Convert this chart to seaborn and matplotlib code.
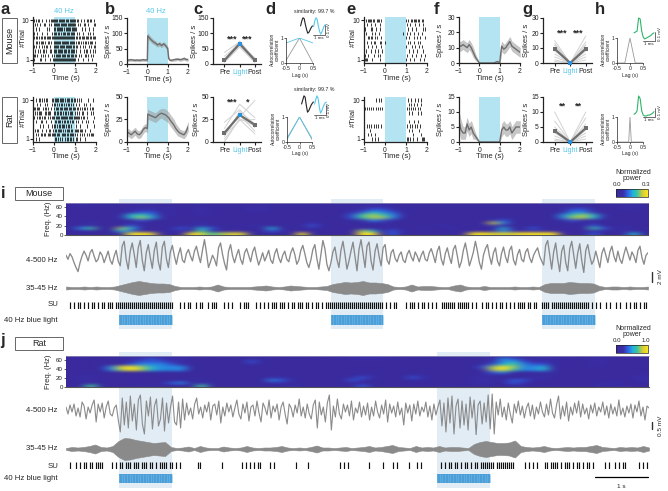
import numpy as np
import matplotlib
matplotlib.use("Agg")
import matplotlib.pyplot as plt
from matplotlib.cm import ScalarMappable
from matplotlib.colors import LinearSegmentedColormap, Normalize
from matplotlib.patches import Rectangle
import seaborn as sns

W, H = 668, 491

TIME = [-1.0, -0.9, -0.8, -0.7, -0.6, -0.5, -0.4, -0.3, -0.2, -0.1, 0.0, 0.02,
        0.1, 0.2, 0.3, 0.4, 0.5, 0.6, 0.7, 0.8, 0.9, 1.0, 1.05,
        1.1, 1.2, 1.3, 1.4, 1.5, 1.6, 1.7, 1.8, 1.9, 2.0]

psth_b_mouse = [13, 13, 14, 13, 12, 13, 12, 13, 14, 13, 13, 92, 85, 78, 72, 68, 62, 66, 60, 66, 60, 50, 18, 13, 12, 14, 15, 16, 14, 15, 18, 15, 14]
sem_b_mouse = [4, 4, 4, 4, 4, 4, 4, 4, 4, 4, 4, 9, 8, 8, 7, 7, 6, 7, 6, 6, 6, 6, 4, 3, 3, 4, 4, 4, 4, 4, 5, 4, 4]
psth_b_rat = [11, 10, 8, 10, 12, 9, 8, 10, 14, 16, 15, 31, 30, 29, 28, 27, 29, 31, 32, 31, 30, 28, 27, 25, 22, 19, 15, 12, 10, 9, 8, 11, 17]
sem_b_rat = [4, 4, 4, 4, 4, 4, 4, 4, 4, 4, 4, 5, 5, 5, 5, 5, 5, 5, 5, 6, 6, 6, 6, 6, 6, 6, 5, 5, 4, 4, 4, 4, 5]
psth_f_mouse = [11, 11, 12, 11, 10, 12, 10, 7, 4, 2, 0, 0, 0, 0, 0, 0, 0, 0, 0, 0.5, 1, 0, 6, 11, 9, 10, 12, 14, 11, 10, 9, 8, 7]
sem_f_mouse = [3, 3, 3, 3, 3, 3, 3, 3, 2, 1, 0, 0, 0, 0, 0, 0, 0, 0, 0, 0.3, 0.5, 0, 3, 3, 3, 3, 3, 3, 3, 3, 3, 3, 3]
psth_f_rat = [7, 4, 3, 3, 6, 4, 5, 3, 2, 1, 0, 0, 0, 0, 0, 0, 0, 0, 0, 0, 0, 0, 2, 4, 5, 4, 4, 5, 3, 4, 5, 5, 5]
sem_f_rat = [3, 3, 2, 2, 2, 2, 2, 2, 1, 0.5, 0, 0, 0, 0, 0, 0, 0, 0, 0, 0, 0, 0, 1, 2, 2, 2, 2, 2, 2, 2, 2, 2, 2]

# pre / light / post per unit
units_c_mouse = [[10, 60, 10], [15, 70, 8], [25, 68, 18], [5, 55, 5], [12, 75, 15], [38, 72, 12], [8, 64, 20]]
mean_c_mouse = [12, 66, 12]
units_c_rat = [[6, 34, 20], [15, 42, 27], [22, 36, 16], [3, 25, 9], [8, 24, 25], [12, 28, 46], [10, 30, 12], [0, 26, 18]]
mean_c_rat = [10, 30, 19]
units_g_mouse = [[15, 0, 18], [13, 0, 14], [12, 0, 12], [10, 0, 10], [8, 0, 8], [6, 0, 6], [4, 0, 4], [2, 0, 2], [1, 0, 12]]
mean_g_mouse = [9.5, 0, 9.5]
units_g_rat = [[10, 0, 10], [7, 0, 8], [5, 0, 6], [4, 0, 5], [3, 0, 3], [2, 0, 2], [1, 0, 1], [0.5, 0, 4]]
mean_g_rat = [3.7, 0, 4.6]
conditions = ["Pre", "Light", "Post"]

lag_points = [-0.5, 0, 0.5]
acorr_d_mouse_unit = [0.1, 1, 0.0]
acorr_d_mouse_light = [0.8, 1, 0.8]
acorr_d_rat_unit = [0.15, 1, 0.1]
acorr_d_rat_light = [0.1, 1, 0.15]
lag_h_mouse = [-0.5, -0.2, 0, 0.2, 0.5]
acorr_h_mouse = [0, 0, 1, 0, 0]
lag_h_rat = [-0.5, -0.05, 0, 0.05, 0.5]
acorr_h_rat = [0, 0, 1, 0, 0]

wave_d_mouse = [-0.02, 0.04, 0.08, 0.07, 0.0, -0.06, -0.11, -0.1, -0.07, -0.04, -0.02]
wave_d_mouse_light = [-0.03, 0.05, 0.09, 0.07, -0.02, -0.09, -0.13, -0.1, -0.06, -0.02, 0.0]
wave_d_rat = [0.0, 0.06, 0.12, 0.1, -0.02, -0.12, -0.1, -0.06, -0.02, 0.01, 0.03]
wave_d_rat_light = [0.0, 0.07, 0.12, 0.08, -0.04, -0.13, -0.1, -0.05, -0.01, 0.02, 0.03]
wave_h_mouse = [-0.02, -0.01, 0.0, 0.15, 0.14, 0.0, -0.07, -0.09, -0.08, -0.07, -0.06, -0.05, -0.03, -0.02]
wave_h_rat = [-0.06, -0.05, -0.02, 0.15, 0.12, -0.02, -0.07, -0.08, -0.08, -0.07, -0.07, -0.06, -0.05, -0.03]

raster_a_mouse = [
    "010101100100010010111 111101111110111011111 101100100100110110010",
    "001010010001100010100 111111011111101111111 100101000110010000011",
    "000100100000001010000 110111111010111110111 110000010010001000100",
    "010010000100001000010 111011010111011101111 001010001000010100100",
    "110110101101101111011 111111111111111111111 011011011101110110111",
    "000110101110100110100 111111101111111011111 010110101011010111001",
    "010100100101011001000 111110111110111111011 011001001010001010011",
    "001001010011010001100 111011111011101101111 010001000101100100101",
    "011010001010100100010 101111101111011101110 110010100011010010100",
    "010000011000100001001 111111111111111111111 100100001000010001000",
]
raster_a_rat = [
    "000100110101011000011 011110111101011101101 101010100000010000100",
    "000010010000101000010 110101011010101101010 010010000101000100000",
    "011011100010110100100 101110111011110111011 101101010110100101100",
    "001010111000110111000 110110110101101011100 101010011000100010100",
    "010010110101100101011 101111011111110111101 111110101100100000010",
    "000100001100010000100 011011101011011010110 010100010001010000100",
    "000000010010000100010 110101101110101101000 010001000000100000010",
    "001011000100010011001 011011110101011101100 111101110010000100000",
    "000101001101100111011 110111001111011011110 101001010100101011100",
    "000100100000000000000 011010101001011011010 011001000010000000000",
]
raster_e_mouse = [
    "001011110110011101000 000000000000000000000 101001101110110011000",
    "000100010001000010000 000000000000000000000 010010000100010001000",
    "010000011000100010000 000000000000000000000 001000100010000001010",
    "001000001001000100000 000000000000000000100 010010001000100010000",
    "000011011001010001000 000000000000000000000 100100001001001000010",
    "000100010011000011000 100000000000000000000 001010001000101000000",
    "000010001000100001000 000000000000000000000 100000100100010010000",
    "001000010001001000100 000000000000000000000 000100010001000001000",
    "010010000010001010000 000000000000000000000 010000100010000100010",
    "011100001000000010000 000000000000000000000 100010001000001000100",
]
raster_e_rat = [
    "000000000000100101000 000000000000000000000 001001000100100100000",
    "000000000000000000000 000000000000000000000 000101001001000100000",
    "010101010100101010100 000000000000000000000 010101010100101000000",
    "000000000000000000000 000000000000000000000 000100100000100100000",
    "000000000000000000000 000000000000000000000 000000000000000000000",
    "000000000000000000000 000000000000000000000 000100001000100000000",
    "000101010010101001000 000000000000000000000 010010100101001000000",
    "000000100000000000000 000000000000000000000 000100100000010000000",
    "000010010001000000000 000000000000000000000 000000010000000100000",
    "000000001001001000000 000000000000000000000 011010010001000011100",
]

# spectrogram rows from 65 Hz down to 3 Hz, one digit per 0.19 s
spec_mouse = [
    "0100000110000100000100000000011110000000000000000111000110",
    "0100000120100100002100000000112210000000000000000122000120",
    "0000001220100200002100000000123320100000000000000133100110",
    "0000002330100200000100000000235430000000000000000244200000",
    "0000025640100100000000000000367642000000000000000467520000",
    "0000025752000000000000000000367741000000000000000477520000",
    "0000001310000000000000000000124320000000002300000231100000",
    "0020001000000200000000002000011100000000008400000010200000",
    "0120003100001200001200003000000100000200012100000000300100",
    "0460075100130530000051002000010020020020000520310000630200",
    "0010053000120610000031000000075030000000000420200000210210",
    "0000009980009867880000090000099030000000998889999000300050",
]
spec_rat = [
    "0000002222110000000000000000111110000000002220122010110000",
    "0000002232220000001000000000111100000000002432121010210000",
    "0000002333220000003000000000000000000000002453121000110000",
    "0000003444320000002000000000000000000000013564331000110000",
    "0000489754440000000000000000000000000000037974451000100000",
    "0000479754440000000000000000000000000000027964451000000000",
    "0000000000000000000000000000000000000000013420121000000000",
    "0010000000000000000000000000011000110000012000011000000001",
    "0210000000000000000022000000231000320000110000220000000012",
    "0110001000000100000043100000320000010000121033000000001002",
    "0000000000340210000012000000000000000000120032000000011000",
    "0060000110000600000000200000030000000110000002000000020200",
]

lfp_mouse = [
    3, -2, 5, 1, -6, -12, -17, -6, 2, 8, 3, -4, 6, 10, 2, -5, -2, 7, 3, -6, 1, 8, -3, -8, 2, 9, -4, -10, 14, 20,
    -2, -14, 8, 18, 4, -12, 12, 21, -3, -16, 6, 16, 0, -13, 9, 19, -5, -15, 13, 20, -1, -12, 7, 15, 2, -8, 4, 12, -3, -6,
    5, 10, 2, -4, 8, 14, 3, -6, 9, 22, 6, -12, -5, 3, -2, -10, 12, 18, 4, -7, -15, 8, 16, 2, -6, 3, 10, -2, -8, 6,
    11, 3, -5, 7, 13, 1, -9, -2, 6, -4, 2, 9, -3, -7, 5, 11, 0, -6, 3, 8, -2, -5, 6, 12, 4, -8, -3, 9, 15, 5,
    -6, -12, -3, 10, 16, -1, -14, 4, 21, 11, -8, -16, -6, 7, 13, -2, -12, 9, 20, 4, -14, -4, 8, 19, 1, -16, 10, 22, 5, -12,
    14, 19, -4, -15, 8, 17, 2, -10, 12, 16, -3, -8, 6, 10, -1, -5, 3, 7, -3, -6, 4, 9, 1, -4, 7, 2, -5, 3, 8, -2,
    -4, 6, 11, 3, -6, 8, 14, -2, -9, 5, 12, 1, -7, 10, 15, 2, -12, -5, 9, 18, 5, -10, -2, 7, 20, 8, -6, -14, 3, 11,
    16, 2, -8, 6, 12, -4, -10, 5, 13, 1, -6, 9, 14, -3, -9, 4, 10, -2, -5, 7, 11, 0, -6, 3, 8, 12, 2, -4, -9, 15,
    21, 4, -14, 7, 18, -2, -17, 8, 15, -6, -16, 11, 20, 3, -13, 6, 17, -4, -18, 9, 16, 2, -8, -3, 8, -2, -12, 5, 12, 3,
    -6, 7, 14, 2, -5, 8, -2, -7, 4, 13, 5, -3, 7, 2, -6, 9, 14, 0, -8, 3, 6,
]
lfp_rat = [
    3, -4, 5, -2, 6, -6, 2, -7, 8, 4, -9, 3, -3, 5, 10, -12, 6, -2, 7, -8, 3, 9, -4, -6, 2, 5, -10, -22, 12, -15,
    8, -18, 14, -11, 6, -20, 10, 15, -14, -24, 9, -6, 13, -19, 4, 11, -16, -9, 12, -21, 7, -13, 3, 14, -12, -15, 8, -18, 11, -10,
    7, -5, 2, -9, 6, 12, -4, 3, -8, 5, -2, 8, -10, 4, 6, -5, 9, -13, 3, -6, 7, -2, 5, -7, 2, 10, -4, -9, 6, -3,
    8, -11, 3, 5, -6, 9, -3, -12, 7, 2, -5, 10, -8, 4, -2, 6, -10, 3, 8, -4, -14, 6, 2, -7, 5, -3, 11, -6, 3, -8,
    6, -4, -9, 5, 10, -18, 8, -5, 3, -12, 7, 15, -20, 4, -7, 11, -4, -9, 6, -2, 5, -6, 9, -10, 2, -3, 8, -7, 4, -5,
    7, -10, 3, -6, 9, -2, -8, 5, -4, 10, -12, 6, -3, 4, -7, 8, -5, 2, -15, 7, -3, 5, -11, 6, -4, 9, -6, 3, -2, 8,
    -7, 4, -10, 6, -5, 3, 10, -16, 7, -22, 12, -13, 14, -24, 4, 11, -18, 9, -15, 6, -20, 13, -8, 10, -25, 5, 9, -14, 7, -12,
    15, -19, 16, -24, 8, -5, 11, -7, 3, -10, 7, -4, -13, 6, -3, 9, -5, 4, -8, 2, 7, -6, 5, -9, 3, -4, 8, -2, -7, 6,
    -5, 11, -3, -8, 5, 14, -9, 4, -6, 8, -11, 3, -5, 7, -3, 9, -7, 6, -4, 2, -9, 5, -3, 7, -6, 3, -2, 8, -5, 4,
    -8, 6, -4, 3, -6, 10, -5, 2, -7, 4, -3, 6, -8, 5, -2, 9, -6, 3, -10, 4, 2,
]

env_mouse = [
    1.5, 1, 1, 1.5, 1, 1.5, 1, 1, 1.5, 3, 4.5, 6, 7, 6, 5, 4.5, 4.5, 4,
    2, 1, 1, 1, 1.5, 1, 1.5, 3.5, 1.5, 1, 1, 1, 1, 1.5, 2, 2.5, 1.5, 1, 1.5, 2.5, 2, 1.5, 1, 1, 1.5, 2,
    4, 5, 6, 5.5, 6, 7, 5.5, 5.5, 5, 4,
    1.5, 1, 1.5, 3.5, 1.5, 2, 2, 1.5, 1, 1, 2.5, 3.5, 1.5, 1, 1, 2, 1, 1, 1, 1, 1.5, 1, 1, 1.5, 1,
    4, 5, 5, 5, 6, 5.5, 5, 5, 4.5, 2,
    1, 1.5, 1.5, 1, 1.5, 1, 1, 1.5,
]
env_rat = [
    1, 2, 1.5, 2, 3, 4.5, 2, 1.5, 3, 8, 11, 10.5, 9, 8, 7, 6, 6.5, 7,
    2, 1, 1.5, 2.5, 1, 3, 1.5, 1, 1, 2.5, 1.5, 1, 1.5, 3, 1.5, 1, 1.5, 1.5, 2, 3, 1.5, 1, 1.5, 1, 2, 3.5,
    1.5, 1.5, 1, 1.5, 2, 1, 1.5, 2, 3, 1.5, 2, 3, 4, 2, 1.5, 1, 3, 1.5, 2, 1.5, 3, 1.5, 2, 2, 1.5, 1,
    5, 7, 8, 7, 6, 6, 6.5, 8.5, 3,
    2, 1.5, 2, 3, 1.5, 1, 1.5, 2, 1.5, 2, 2, 3, 4, 2, 1.5, 1, 2, 1.5, 2, 1.5, 3, 1.5,
]

su_mouse = (
    "00101011010101101011011101111111111111111111111111"
    "11110001010110010110010111000101010001011100010101"
    "01011101110101101110110101101011111111111111111111"
    "11111111101010110000101110101101010100111111101111"
    "11010100101101010110101010111101101100111101111111"
    "11111111111101010100101001010010101101011"
)
su_rat = (
    "00100101011011011110000101011011101110111011010111"
    "10110101000000001100000000001000000000101010101100"
    "00101000000000010000010000000000000001010100000000"
    "01000000100001010000010001010000000001010110110101"
    "10101101111111011111111100000101010100011011110101"
    "11010110101101000001010010101100000010101"
)

windows_mouse = [(1, 2), (5, 6), (9, 10)]
windows_rat = [(1, 2), (7, 8)]

sns.set_style("ticks")
plt.rcParams["font.family"] = ["Liberation Sans", "DejaVu Sans"]
plt.rcParams["axes.linewidth"] = 0.9
plt.rcParams["xtick.major.width"] = 0.8
plt.rcParams["ytick.major.width"] = 0.8
plt.rcParams["xtick.major.size"] = 2
plt.rcParams["ytick.major.size"] = 2
plt.rcParams["xtick.major.pad"] = 1.5
plt.rcParams["ytick.major.pad"] = 1
plt.rcParams["axes.edgecolor"] = "#222222"
plt.rcParams["xtick.color"] = "#222222"
plt.rcParams["ytick.color"] = "#222222"

LIGHT = "#b4e4f1"
CYAN = "#56c8ea"
BLUE = "#2f8fd6"
GRAY = "#6e6e6e"
TRACE = "#8a8a8a"
SHADE = "#e2ecf5"
GREEN = "#2fb56a"
FS = 5.5
TICK = 4.9
parula = LinearSegmentedColormap.from_list(
    "parula_like",
    [(0, "#3a2a9e"), (0.23, "#3a2fa8"), (0.36, "#2f5fe0"), (0.52, "#20aee0"),
     (0.66, "#39c6a0"), (0.82, "#cfcb3a"), (1, "#fde51c")],
)

fig = plt.figure(figsize=(W / 100, H / 100), dpi=100)


def px_axes(left, top, right, bottom, **kw):
    return fig.add_axes([left / W, 1 - bottom / H, (right - left) / W, (bottom - top) / H], **kw)


# overlay in pixel coordinates for labels and boxes
ov = px_axes(0, 0, W, H, zorder=10)
ov.set_xlim(0, W)
ov.set_ylim(H, 0)
ov.axis("off")
ov.patch.set_alpha(0)


def label(x, y, s, size=FS, ha="center", va="center", **kw):
    ov.text(x, y, s, fontsize=size, ha=ha, va=va, **kw)


def clean(ax):
    sns.despine(ax=ax)
    ax.patch.set_alpha(0)
    ax.tick_params(labelsize=TICK)


def raster(box, rows, ylab_x):
    ax = px_axes(*box)
    ax.axvspan(0, 1, color=LIGHT, lw=0)
    trials = []
    for row in rows:
        row = row.replace(" ", "")
        trials.append([-1 + i * 3 / len(row) for i, ch in enumerate(row) if ch == "1"])
    ax.eventplot(trials, lineoffsets=list(range(10, 0, -1)), linelengths=0.72, linewidths=0.55, colors="black")
    ax.set_xlim(-1, 2)
    ax.set_ylim(0.3, 10.7)
    ax.set_xticks([-1, 0, 1, 2])
    ax.set_yticks([1, 10])
    clean(ax)
    label(ylab_x, (box[1] + box[3]) / 2 - 2, "#Trial", rotation=90)
    label((box[0] + box[2]) / 2 + 1, box[3] + 15, "Time (s)")
    return ax


def psth(box, mean, sem, ymax, yticks, ylab_x):
    ax = px_axes(*box)
    ax.axvspan(0, 1, color=LIGHT, lw=0)
    mean = np.array(mean, dtype=float)
    sem = np.array(sem, dtype=float)
    ax.fill_between(TIME, np.clip(mean - sem, 0, None), mean + sem, color="#9a9a9a", alpha=0.55, lw=0.3)
    sns.lineplot(x=TIME, y=mean, ax=ax, color=GRAY, lw=1.0, errorbar=None)
    ax.set_xlim(-1, 2)
    ax.set_ylim(0, ymax)
    ax.set_xticks([-1, 0, 1, 2])
    ax.set_yticks(yticks)
    clean(ax)
    label(ylab_x, (box[1] + box[3]) / 2, "Spikes / s", rotation=90)
    label((box[0] + box[2]) / 2, box[3] + 15, "Time (s)")
    return ax


def paired(box, units, mean, ymax, yticks, ylab_x, stars, star_val):
    ax = px_axes(*box)
    for u in units:
        sns.lineplot(x=[0, 1, 2], y=u, ax=ax, color="#d2d2d2", lw=0.7, errorbar=None)
    sns.lineplot(x=[0, 1, 2], y=mean, ax=ax, color=GRAY, lw=1.6, errorbar=None)
    ax.scatter([0, 2], [mean[0], mean[2]], marker="s", s=9, color=GRAY, zorder=5, lw=0)
    ax.scatter([1], [mean[1]], marker="s", s=11, color=BLUE, zorder=6, lw=0, clip_on=False)
    ax.set_xlim(-0.75, 2.4)
    ax.set_ylim(0, ymax)
    ax.set_xticks([0, 1, 2])
    ax.set_xticklabels(conditions)
    ax.set_yticks(yticks)
    clean(ax)
    ax.get_xticklabels()[1].set_color(CYAN)
    ax.tick_params(axis="x", labelsize=5.0)
    ax.text(0.5, star_val, stars[0], ha="center", va="center", fontsize=6.5, fontweight="bold")
    ax.text(1.5, star_val, stars[1], ha="center", va="center", fontsize=6.5, fontweight="bold")
    label(ylab_x, (box[1] + box[3]) / 2, "Spikes / s", rotation=90)
    return ax


def autocorr(box, lines):
    ax = px_axes(*box)
    for xs, ys, col in lines:
        sns.lineplot(x=xs, y=ys, ax=ax, color=col, lw=0.6, errorbar=None)
    ax.set_xlim(-0.5, 0.5)
    ax.set_ylim(0, 1)
    ax.set_xticks([-0.5, 0, 0.5])
    ax.set_xticklabels(["-0.5", "0", "0.5"])
    ax.set_yticks([0, 1])
    sns.despine(ax=ax)
    ax.patch.set_alpha(0)
    ax.tick_params(labelsize=3.7, width=0.5, length=1.2, pad=0.8)
    for s in ax.spines.values():
        s.set_linewidth(0.5)
    label(box[0] - 11, (box[1] + box[3]) / 2 - 1, "Autocorrelation\ncoefficient", rotation=90, size=3.5, linespacing=0.95)
    label((box[0] + box[2]) / 2, box[3] + 12, "Lag (s)", size=3.7)
    return ax


def waveform(box, values, col):
    ax = px_axes(*box)
    sns.lineplot(x=list(range(len(values))), y=values, ax=ax, color=col, lw=0.8, errorbar=None)
    ax.axis("off")
    ax.patch.set_alpha(0)
    return ax


def scale_inset(x0, x1, y0, y1, text_x, text_y):
    ov.plot([x0, x1, x1], [y1, y1, y0], color="#333333", lw=0.5)
    label((x0 + x1) / 2, y1 + 3, "1 ms", size=3.2)
    label(text_x, text_y, "0.1 mV", size=3.2, rotation=90)


def row_panel(top, wins, spec, lfp, lfp_lim, lfp_lw, env, su, lab_y, lims, vmax_txt, scale_txt, scale_box):
    t, b = top, lims["bottom"]
    right = lims["right"]
    shade = px_axes(66, t, right, b, zorder=-1)
    shade.set_xlim(0, 11)
    shade.axis("off")
    for w in wins:
        shade.axvspan(w[0], w[1], color=SHADE, lw=0)

    sp = px_axes(66, lims["spec"][0], right, lims["spec"][1])
    mat = np.array([[int(c) for c in row.ljust(58, "0")[:58]] for row in spec]) / 9.0
    sp.imshow(mat, cmap=parula, vmin=0, vmax=1, aspect="auto", interpolation="bicubic", extent=[0, 11, 0, lims["spec_top"]])
    sp.set_xticks([])
    sp.set_yticks([0, 20, 40, 60])
    sp.tick_params(labelsize=4.4, width=0.5, length=1.5, pad=0.8)
    for k, s in sp.spines.items():
        s.set_visible(k == "bottom" or k == "top")
        s.set_color("#555555" if k == "bottom" else "#9a9ab8")
        s.set_linewidth(0.8 if k == "bottom" else 0.5)
    label(48, sum(lims["spec"]) / 2, "Freq. (Hz)", rotation=90)

    tr = px_axes(66, lims["lfp"][0], right, lims["lfp"][1])
    sns.lineplot(x=np.linspace(0, 11, len(lfp)), y=lfp, ax=tr, color=TRACE, lw=lfp_lw, errorbar=None)
    tr.set_xlim(0, 11)
    tr.set_ylim(*lfp_lim)
    tr.axis("off")
    tr.patch.set_alpha(0)

    en = px_axes(66, lims["env"][0], right, lims["env"][1])
    env = np.array(env, dtype=float)
    xs = np.linspace(0, 11, len(env))
    en.fill_between(xs, -env, env, color=TRACE, lw=0.4)
    en.set_xlim(0, 11)
    en.set_ylim(-14, 14)
    en.axis("off")
    en.patch.set_alpha(0)

    s_ax = px_axes(66, lims["su"][0], right, lims["su"][1])
    spikes = [i * 11 / len(su) for i, ch in enumerate(su) if ch == "1"]
    s_ax.eventplot(spikes, linelengths=1, linewidths=0.85, colors="#111111")
    s_ax.set_xlim(0, 11)
    s_ax.set_ylim(0.5, 1.5)
    s_ax.axis("off")
    s_ax.patch.set_alpha(0)

    l_ax = px_axes(66, lims["light"][0], right, lims["light"][1])
    for w in wins:
        l_ax.barh(0, w[1] - w[0], left=w[0], height=1, color="#4a9fd8", lw=0)
        l_ax.vlines(np.linspace(w[0], w[1], 21), -0.5, 0.5, color="#74b6e4", lw=0.4)
    l_ax.set_xlim(0, 11)
    l_ax.set_ylim(-0.5, 0.5)
    l_ax.axis("off")
    l_ax.patch.set_alpha(0)

    for y, s in zip(lab_y, ["4-500 Hz", "35-45 Hz", "SU", "40 Hz blue light"]):
        label(58, y, s, size=5.6, ha="right")

    c_top, c_bot = lims["cbar"]
    cax = px_axes(616, c_top, 648, c_bot, zorder=12)
    cb = fig.colorbar(ScalarMappable(Normalize(0, 1), parula), cax=cax, orientation="horizontal")
    cb.set_ticks([])
    cb.outline.set_linewidth(0.5)
    label(633, c_top - 16, "Normalized", size=5)
    label(632, c_top - 10, "power", size=5)
    label(617, c_top - 5, "0.0", size=4.4)
    label(646, c_top - 5, vmax_txt, size=4.4)

    ov.plot([652, 652], scale_box, color="#333333", lw=1)
    label(660, sum(scale_box) / 2, scale_txt, size=4.6, rotation=90)


raster((33, 17, 96, 63), raster_a_mouse, 23)
raster((33, 97, 96, 142), raster_a_rat, 23)
raster((364, 17, 427, 63), raster_e_mouse, 353)
raster((364, 97, 427, 142), raster_e_rat, 353)

psth((127, 18, 188, 64), psth_b_mouse, sem_b_mouse, 150, [0, 50, 100, 150], 108)
psth((127, 97, 188, 142), psth_b_rat, sem_b_rat, 50, [0, 25, 50], 108)
psth((459, 17, 520, 63), psth_f_mouse, sem_f_mouse, 30, [0, 10, 20, 30], 441)
psth((459, 97, 520, 142), psth_f_rat, sem_f_rat, 15, [0, 5, 10, 15], 441)

paired((213, 18, 261, 64), units_c_mouse, mean_c_mouse, 150, [0, 50, 100, 150], 194, ["***", "***"], 81)
paired((213, 97, 261, 142), units_c_rat, mean_c_rat, 50, [0, 25, 50], 197, ["***", "*"], 44)
paired((543, 18, 592, 63), units_g_mouse, mean_g_mouse, 30, [0, 10, 20, 30], 526, ["***", "***"], 20)
paired((543, 97, 592, 142), units_g_rat, mean_g_rat, 15, [0, 5, 10, 15], 526, ["**", "**"], 12)

autocorr((286, 38, 313, 63), [(lag_points, acorr_d_mouse_unit, "#999999"), (lag_points, acorr_d_mouse_light, CYAN)])
autocorr((287, 117, 312, 142), [(lag_points, acorr_d_rat_unit, "#999999"), (lag_points, acorr_d_rat_light, CYAN)])
autocorr((617, 38, 643, 63), [(lag_h_mouse, acorr_h_mouse, "#999999")])
autocorr((617, 117, 643, 142), [(lag_h_rat, acorr_h_rat, "#999999")])

waveform((300, 17, 313, 34), wave_d_mouse, "#222222")
waveform((313, 17, 326, 35), wave_d_mouse_light, CYAN)
waveform((301, 95, 314, 113), wave_d_rat, "#222222")
waveform((314, 95, 327, 114), wave_d_rat_light, CYAN)
waveform((633, 17, 655, 40), wave_h_mouse, GREEN)
waveform((633, 95, 655, 117), wave_h_rat, GREEN)

scale_inset(313, 325, 25, 35, 329, 30)
scale_inset(314, 326, 105, 115, 329, 110)
scale_inset(643, 655, 32, 41, 660, 34)
scale_inset(643, 655, 108, 117, 660, 112)

label(314, 11, "similarity: 99.7 %", size=3.8)
label(314, 89, "similarity: 99.7 %", size=3.8)
label(64, 11, "40 Hz", color=CYAN)
label(156, 11, "40 Hz", color=CYAN)

for x, y, s in [(5, 9, "a"), (110, 9, "b"), (198, 9, "c"), (270, 9, "d"), (351, 9, "e"), (437, 9, "f"),
                (527, 9, "g"), (600, 9, "h"), (3, 193, "i"), (3, 340, "j")]:
    label(x, y, s, size=12, fontweight="bold")

for box, s, rot in [((2, 18, 17, 63), "Mouse", 90), ((2, 97, 17, 143), "Rat", 90),
                    ((15, 187, 63, 200), "Mouse", 0), ((15, 337, 63, 350), "Rat", 0)]:
    ov.add_patch(Rectangle((box[0], box[1]), box[2] - box[0], box[3] - box[1], fill=False, ec="#666666", lw=0.7))
    label((box[0] + box[2]) / 2, (box[1] + box[3]) / 2, s, size=6.5, rotation=rot)

row_panel(199, windows_mouse, spec_mouse, lfp_mouse, (-26, 24), 0.95, env_mouse, su_mouse, [261, 288, 305, 320],
          {"bottom": 329, "right": 648, "spec": (203, 235), "spec_top": 68, "lfp": (238, 279),
           "env": (274, 302), "su": (302, 309), "light": (315, 325), "cbar": (189, 197)},
          "0.3", "2 mV", [272, 282])
row_panel(352, windows_rat, spec_rat, lfp_rat, (-25, 17), 0.8, env_rat, su_rat, [410, 449, 466, 478],
          {"bottom": 488, "right": 649, "spec": (356, 387), "spec_top": 68, "lfp": (393, 435),
           "env": (435, 463), "su": (462, 469), "light": (474, 483), "cbar": (345, 353)},
          "1.0", "0.5 mV", [422, 429])

ov.plot([595, 648], [477, 477], color="black", lw=0.9)
label(621, 487, "1 s", size=4.6)

fig.savefig("out.png", dpi=100)
plt.close(fig)
